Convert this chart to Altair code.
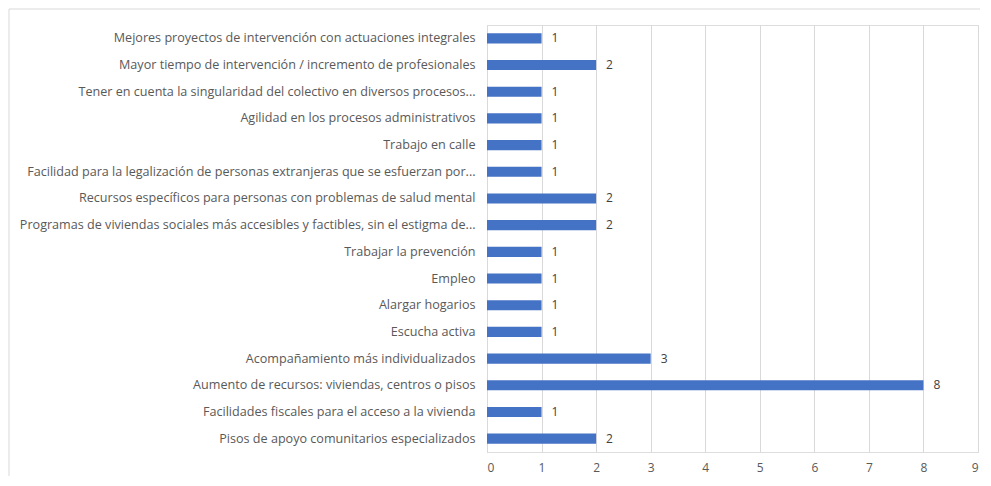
import altair as alt
import pandas as pd

categories = [
    "Mejores proyectos de intervención con actuaciones integrales",
    "Mayor tiempo de intervención / incremento de profesionales",
    "Tener en cuenta la singularidad del colectivo en diversos procesos...",
    "Agilidad en los procesos administrativos",
    "Trabajo en calle",
    "Facilidad para la legalización de personas extranjeras que se esfuerzan por...",
    "Recursos específicos para personas con problemas de salud mental",
    "Programas de viviendas sociales más accesibles y factibles, sin el estigma de...",
    "Trabajar la prevención",
    "Empleo",
    "Alargar hogarios",
    "Escucha activa",
    "Acompañamiento más individualizados",
    "Aumento de recursos: viviendas, centros o pisos",
    "Facilidades fiscales para el acceso a la vivienda",
    "Pisos de apoyo comunitarios especializados",
]
values = [1, 2, 1, 1, 1, 1, 2, 2, 1, 1, 1, 1, 3, 8, 1, 2]
x_ticks = list(range(0, 10))

df = pd.DataFrame({"cat": categories, "val": values})

FONT = "Open Sans"

y_enc = alt.Y("cat:N", sort=categories, title=None,
              scale=alt.Scale(paddingInner=0.62, paddingOuter=0.31),
              axis=alt.Axis(labelFont=FONT, labelFontSize=12.6, labelColor="#595959",
                            ticks=False, domain=True, domainColor="#d9d9d9",
                            labelPadding=12, labelLimit=520))
x_enc = alt.X("val:Q", title=None,
              scale=alt.Scale(domain=[0, 9], nice=False),
              axis=alt.Axis(values=x_ticks, format="d", labelFont=FONT, labelFontSize=12,
                            labelColor="#595959", ticks=False, domain=False,
                            grid=True, gridColor="#d9d9d9", labelPadding=10))

bars = alt.Chart(df).mark_bar(color="#4472C4").encode(x=x_enc, y=y_enc)
labels = alt.Chart(df).mark_text(align="left", dx=10, font=FONT, fontSize=12,
                                 color="#404040").encode(
    x="val:Q", y=alt.Y("cat:N", sort=categories), text="val:Q")

border = alt.Chart(pd.DataFrame({"a": [0]})).mark_rect(
    fill=None, stroke="#d9d9d9", strokeWidth=1).encode(
    x=alt.value(-478), x2=alt.value(1000), y=alt.value(-16), y2=alt.value(500))

chart = alt.layer(border, bars, labels).properties(
    width=491, height=427,
    autosize=alt.AutoSizeParams(type="none"),
    padding={"left": 479, "top": 17, "right": 2, "bottom": 24},
).configure_view(stroke=None).configure(background="white")

chart.save("out.html", embed_options={"renderer": "svg", "actions": False})
